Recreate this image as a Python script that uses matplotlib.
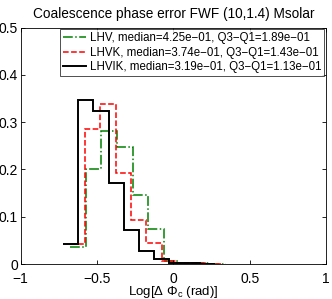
import numpy as np
import matplotlib
matplotlib.use("Agg")
import matplotlib.pyplot as plt

plt.rcParams['font.family'] = ['Liberation Sans', 'DejaVu Sans']
plt.rcParams['mathtext.fontset'] = 'custom'
plt.rcParams['mathtext.rm'] = 'Liberation Sans'
plt.rcParams['mathtext.it'] = 'Liberation Sans'
plt.rcParams['mathtext.default'] = 'regular'

title = "Coalescence phase error FWF (10,1.4) Msolar"
xlabel = r"Log[$\Delta\ \Phi_c$ (rad)]"

labels = ["LHV, median=4.25e\u221201, Q3\u2212Q1=1.89e\u221201",
          "LHVK, median=3.74e\u221201, Q3\u2212Q1=1.43e\u221201",
          "LHVIK, median=3.19e\u221201, Q3\u2212Q1=1.13e\u221201"]

# bin edges (log10 of phase error) and fractions per series
lhv_edges = np.linspace(-0.675, 0.345, 11)
lhv_vals = [0.035, 0.202, 0.282, 0.248, 0.145, 0.075, 0.007, 0.003, 0.002, 0.001]
lhvk_edges = np.linspace(-0.680, 0.324, 11)
lhvk_vals = [0.043, 0.285, 0.339, 0.193, 0.093, 0.044, 0.007, 0.003, 0.002, 0.001]
lhvik_edges = np.linspace(-0.722, 0.271, 11)
lhvik_vals = [0.042, 0.347, 0.324, 0.172, 0.072, 0.0275, 0.010, 0.003, 0.002, 0.001]

xticks = [-1, -0.5, 0, 0.5, 1]
xticklabels = ["\u22121", "\u22120.5", "0", "0.5", "1"]
yticks = [0, 0.1, 0.2, 0.3, 0.4, 0.5]
yticklabels = ["0", "0.1", "0.2", "0.3", "0.4", "0.5"]

fig = plt.figure(figsize=(3.32, 2.99), dpi=100)
ax = fig.add_axes([20.7/332, 35/299, (326-20.7)/332, (264-27.7)/299])

ax.stairs(lhv_vals, lhv_edges, baseline=None, color=(0, 0.5, 0), ls='-.', lw=1.1, label=labels[0])
ax.stairs(lhvk_vals, lhvk_edges, baseline=None, color='red', ls='--', lw=1.1, label=labels[1])
ax.stairs(lhvik_vals, lhvik_edges, baseline=None, color='black', ls='-', lw=1.4, label=labels[2])

ax.set_xlim(-1, 1)
ax.set_ylim(0, 0.5)
ax.set_xticks(xticks)
ax.set_xticklabels(xticklabels)
ax.set_yticks(yticks)
ax.set_yticklabels(yticklabels)
ax.tick_params(direction='in', top=True, right=True, labelsize=10, length=3, width=0.6, pad=2)
ax.tick_params(axis='x', pad=5.5)
for lbl in ax.get_yticklabels():
    lbl.set_verticalalignment('center_baseline')
for s in ax.spines.values():
    s.set_linewidth(0.6)
ax.set_title(title, fontsize=9.8, pad=7)
ax.set_xlabel(xlabel, fontsize=9.5, labelpad=-1)

leg = ax.legend(loc='upper right', fontsize=8.3, frameon=True, fancybox=False,
                borderaxespad=0.15, handlelength=2.0, handletextpad=0.3,
                borderpad=0.25, labelspacing=0.2)
leg.get_frame().set_edgecolor('black')
leg.get_frame().set_linewidth(0.6)

fig.savefig("out.png", dpi=100)
